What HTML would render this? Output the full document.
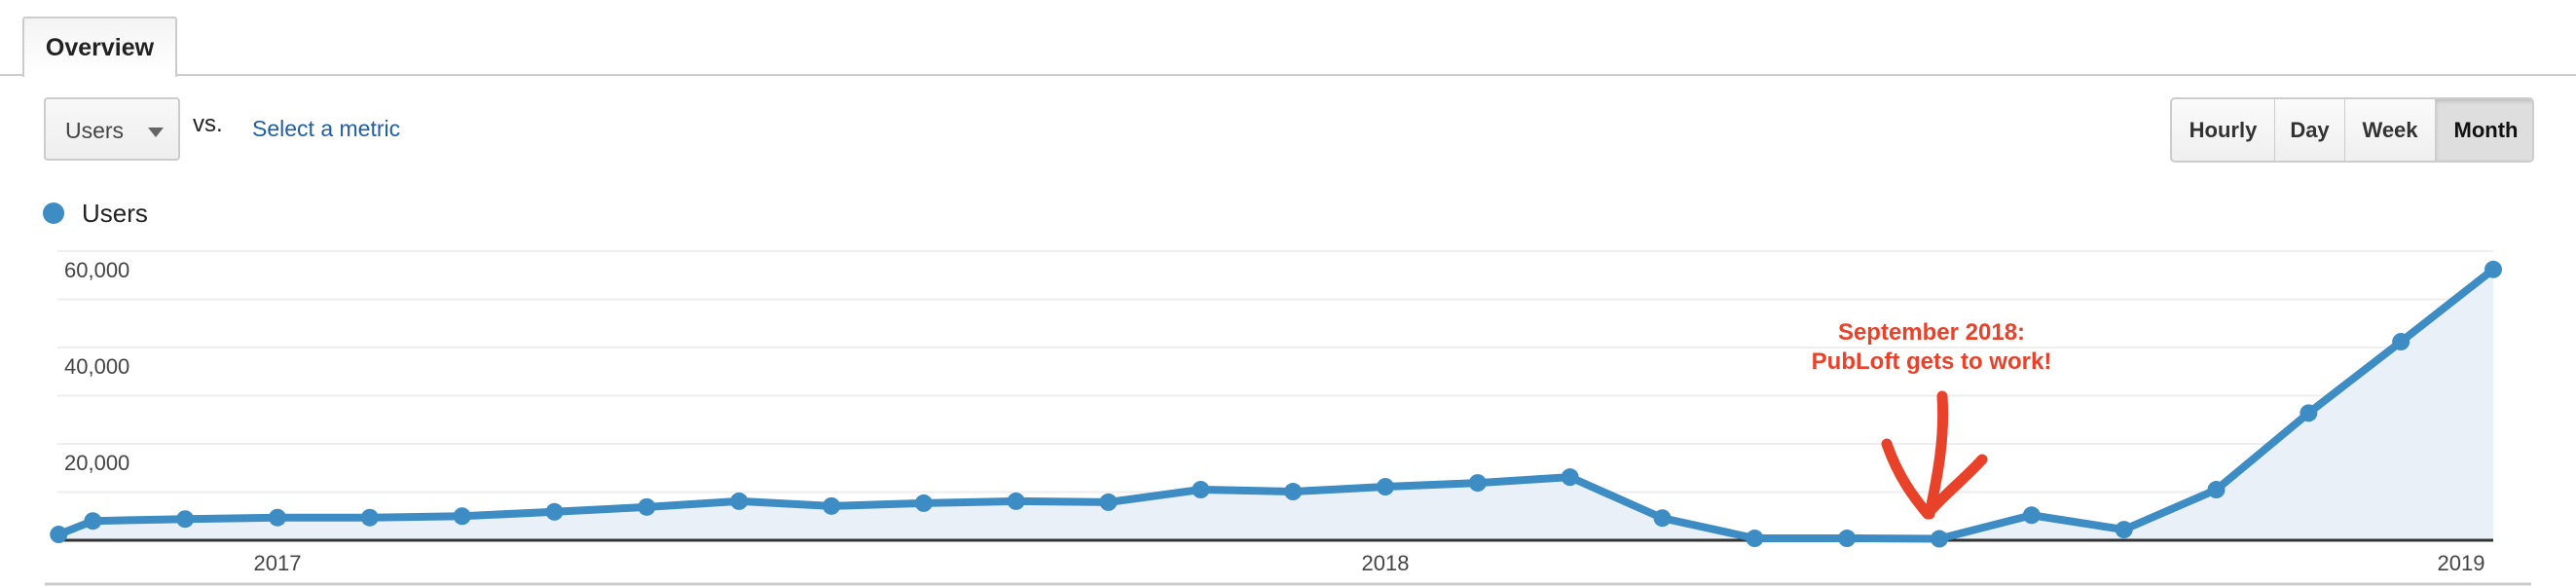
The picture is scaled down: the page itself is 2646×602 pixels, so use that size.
<!DOCTYPE html>
<html><head><meta charset="utf-8"><style>
body{margin:0;width:2646px;height:602px;background:#fff;position:relative;overflow:hidden;font-family:"Liberation Sans",sans-serif}
.abs{position:absolute}
.btn{position:absolute;top:0;height:100%;display:flex;align-items:center;justify-content:center;font-size:22px;font-weight:bold;color:#333}
</style></head><body>
<div class="abs" style="left:0;top:76px;width:2646px;height:2px;background:#ccc"></div>
<div class="abs" style="left:23px;top:17px;width:155px;height:60px;border:2px solid #ccc;border-bottom:none;border-radius:3px 3px 0 0;background:linear-gradient(#f4f4f4,#fff);display:flex;align-items:center;justify-content:center;font-size:25px;font-weight:bold;color:#222">Overview</div>
<div class="abs" style="left:45px;top:100px;width:140px;height:65px;border:2px solid #ccc;border-radius:4px;background:linear-gradient(#f8f8f8,#eee);box-sizing:border-box">
<span style="position:absolute;left:20px;top:19px;font-size:23px;color:#444">Users</span>
<span style="position:absolute;left:105px;top:29px;width:0;height:0;border-left:8px solid transparent;border-right:8px solid transparent;border-top:10px solid #666"></span></div>
<div class="abs" style="left:198px;top:114px;font-size:24px;color:#222">vs.</div>
<div class="abs" style="left:259px;top:119px;font-size:23px;color:#1f5fa4">Select a metric</div>
<div class="abs" style="left:2229px;top:100px;width:374px;height:67px;border:2px solid #ccc;border-radius:5px;box-sizing:border-box;background:linear-gradient(#fbfbfb,#efefef);overflow:hidden">
<div class="btn" style="left:0;width:105px;border-right:1px solid #ccc">Hourly</div>
<div class="btn" style="left:106px;width:71px;border-right:1px solid #ccc">Day</div>
<div class="btn" style="left:178px;width:92px;border-right:1px solid #ccc">Week</div>
<div class="btn" style="left:271px;width:103px;background:#dedede;color:#111;box-shadow:inset 0 2px 4px #bbb">Month</div>
</div>
<div class="abs" style="left:44px;top:208px;width:22px;height:22px;border-radius:50%;background:#3d8cc4"></div>
<div class="abs" style="left:84px;top:204px;font-size:26px;color:#222">Users</div>
<svg class="abs" style="left:0;top:0" width="2646" height="602" id="chart"></svg>
<script>
const months = [-2.37,-2,-1,0,1,2,3,4,5,6,7,8,9,10,11,12,13,14,15,16,17,18,19,20,21,22,23,24];
const users = [1200,4000,4400,4700,4700,5000,5900,6900,8100,7100,7700,8100,7900,10500,10100,11100,11900,13100,4600,400,400,300,5200,2200,10500,26400,41200,56200];
const yTicks = [10000,20000,30000,40000,50000,60000];
const yLabels = ["20,000","40,000","60,000"];
const yLabelVals = [20000,40000,60000];
const xLabels = ["2017","2018","2019"];
const xLabelMonths = [0,12,24];
const NS="http://www.w3.org/2000/svg";
const svg=document.getElementById('chart');
const X=m=>285+m*(2561-285)/24;
const Y=v=>555-v*(99/20000);
function mk(t,a){const e=document.createElementNS(NS,t);for(const k in a)e.setAttribute(k,a[k]);svg.appendChild(e);return e;}
yTicks.forEach(v=>{const l=mk('line',{x1:59,x2:2561,y1:Y(v),y2:Y(v),stroke:'#eee','stroke-width':2});

});
yLabels.forEach((t,i)=>{const e=mk('text',{x:66,y:Y(yLabelVals[i])+27,'font-size':22,fill:'#444','font-family':'Liberation Sans, sans-serif'});e.textContent=t;

});
let pts=months.map((m,i)=>X(m)+','+Y(users[i]));
const area=mk('polygon',{points:X(months[0])+','+555+' '+pts.join(' ')+' '+X(months[months.length-1])+',555',fill:'#e9f0f8'});


const base=mk('line',{x1:59,x2:2561,y1:555,y2:555,stroke:'#333','stroke-width':3});


const line=mk('polyline',{points:pts.join(' '),fill:'none',stroke:'#3d8cc4','stroke-width':8,'stroke-linejoin':'round'});


months.forEach((m,i)=>{const c=mk('circle',{cx:X(m),cy:Y(users[i]),r:9,fill:'#3d8cc4'});

});
xLabels.forEach((t,i)=>{const e=mk('text',{x:X(xLabelMonths[i])-(i==2?33:0),y:586,'font-size':22,fill:'#444','text-anchor':'middle','font-family':'Liberation Sans, sans-serif'});e.textContent=t;

});
const bl=mk('line',{x1:46,x2:2600,y1:600,y2:600,stroke:'#ccc','stroke-width':3});


['September 2018:','PubLoft gets to work!'].forEach((t,i)=>{const e=mk('text',{x:1984,y:349+i*30,'font-size':24,'font-weight':'bold',fill:'#e8432a','text-anchor':'middle','font-family':'Liberation Sans, sans-serif'});e.textContent=t;

});
const arrow=mk('path',{d:'M1995 407 C1998 450 1990 490 1982 528 M1938 456 C1950 490 1965 510 1980 528 C1995 510 2020 490 2036 472',fill:'none',stroke:'#e8432a','stroke-width':11,'stroke-linecap':'round','stroke-linejoin':'round'});


</script>
</body></html>
